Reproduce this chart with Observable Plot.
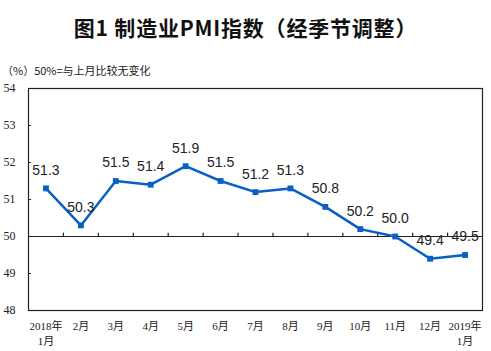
<!DOCTYPE html>
<html><head><meta charset="utf-8">
<script src="https://cdn.jsdelivr.net/npm/d3@7"></script>
<script src="https://cdn.jsdelivr.net/npm/@observablehq/plot@0.6"></script>
<style>
body{margin:0;background:#fff;width:491px;height:351px;position:relative;overflow:hidden}
#title{position:absolute;left:0;width:491px;top:12px;text-align:center;font:bold 21px "Noto Sans CJK SC",sans-serif;color:#111;line-height:30px;letter-spacing:0.8px}
#sub{position:absolute;left:2px;top:62px;font:11px "Noto Sans CJK SC","Liberation Serif",sans-serif;color:#222;line-height:16px}
#chart{position:absolute;left:0;top:80px}
</style></head><body>
<div id="title">图1 制造业PMI指数（经季节调整）</div>
<div id="sub">（%）50%=与上月比较无变化</div>
<div id="chart"></div>
<script>
const months = ["2018年\n1月","2月","3月","4月","5月","6月","7月","8月","9月","10月","11月","12月","2019年\n1月"];
const pmi = [51.3,50.3,51.5,51.4,51.9,51.5,51.2,51.3,50.8,50.2,50.0,49.4,49.5];
const yTicks = [48,49,50,51,52,53,54];

const data = pmi.map((v,i)=>({i, v}));
const bounds = d3.range(months.length-1).map(i=>i+0.5);
const blue = "#0a5fc6";

const plot = Plot.plot({
  width: 491, height: 271,
  marginTop: 8, marginBottom: 41, marginLeft: 28, marginRight: 9,
  x: {type:"linear", domain:[-0.5, months.length-0.5], label:null},
  y: {domain:[48,54], label:null},
  style: {background:"transparent"},
  marks: [
    Plot.ruleY(yTicks, {y: d=>d, x1: -0.5, x2: -0.5+0.09, stroke:"#333", strokeWidth:1}),
    Plot.ruleY([50], {stroke:"#222", strokeWidth:1.2}),
    Plot.ruleX(bounds, {x: d=>d, y1: 50, y2: 50.09, stroke:"#222", strokeWidth:1.2}),
    Plot.frame({stroke:"#222", strokeWidth:1.2}),
    Plot.axisY({ticks: yTicks, tickSize:0, tickPadding:13, tickFormat: d=>String(d), label:null, fontSize:12, fontFamily:"Liberation Serif, serif", fill:"#222"}),
    Plot.axisX({ticks: d3.range(months.length), tickSize:0, tickPadding:9, tickFormat: i=>months[i], label:null, fontSize:11, lineHeight:1.35, fontFamily:"Liberation Serif, Noto Sans CJK SC, serif", fill:"#222"}),
    Plot.line(data, {x:"i", y:"v", stroke: blue, strokeWidth:2.5}),
    Plot.dot(data, {x:"i", y:"v", symbol:"square", r:3.3, fill: blue, stroke:"none"}),
    Plot.text(data, {x:"i", y:"v", text: d=>d.v.toFixed(1), dy:-18, fontSize:14, fontFamily:"Liberation Sans, Arial, sans-serif", fill:"#222"})
  ]
});
document.getElementById("chart").appendChild(plot);
</script>
</body></html>
